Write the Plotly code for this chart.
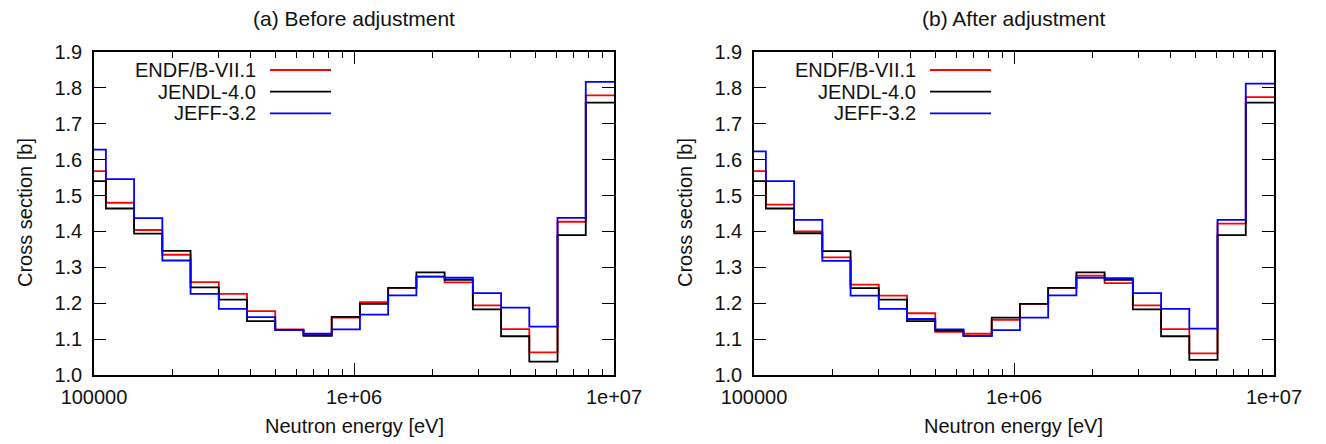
import plotly.graph_objects as go

# Group boundaries (eV), lethargy width 0.25
edges = [86517, 111090, 142642, 183156, 235177, 301974, 387742, 497871, 639279,
         820850, 1053992, 1353353, 1737739, 2231302, 2865048, 3678794, 4723666,
         6065307, 7788008, 10000000]

series_names = ["ENDF/B-VII.1", "JENDL-4.0", "JEFF-3.2"]
series_colors = ["#ff0000", "#000000", "#0000ff"]

# (a) Before adjustment
before_endf = [1.568, 1.480, 1.404, 1.335, 1.259, 1.226, 1.178, 1.127, 1.112, 1.160,
               1.203, 1.243, 1.274, 1.258, 1.194, 1.128, 1.063, 1.427, 1.779]
before_jendl = [1.540, 1.464, 1.394, 1.346, 1.244, 1.210, 1.150, 1.125, 1.109, 1.162,
                1.198, 1.243, 1.286, 1.265, 1.183, 1.108, 1.037, 1.390, 1.759]
before_jeff = [1.628, 1.546, 1.437, 1.319, 1.226, 1.184, 1.161, 1.125, 1.115, 1.127,
               1.168, 1.222, 1.274, 1.271, 1.228, 1.188, 1.135, 1.438, 1.817]

# (b) After adjustment
after_endf = [1.568, 1.475, 1.400, 1.328, 1.252, 1.221, 1.172, 1.120, 1.115, 1.154,
              1.198, 1.243, 1.277, 1.256, 1.194, 1.128, 1.060, 1.422, 1.774]
after_jendl = [1.540, 1.464, 1.395, 1.345, 1.242, 1.210, 1.150, 1.124, 1.109, 1.160,
               1.198, 1.243, 1.286, 1.265, 1.183, 1.108, 1.042, 1.390, 1.759]
after_jeff = [1.623, 1.540, 1.432, 1.318, 1.221, 1.184, 1.156, 1.127, 1.109, 1.125,
              1.160, 1.222, 1.271, 1.270, 1.228, 1.184, 1.129, 1.432, 1.812]

panel_titles = ["(a) Before adjustment", "(b) After adjustment"]
x_tickvals = [1e5, 1e6, 1e7]
x_ticktext = ["100000", "1e+06", "1e+07"]
y_tickvals = [1.0, 1.1, 1.2, 1.3, 1.4, 1.5, 1.6, 1.7, 1.8, 1.9]
x_title = "Neutron energy [eV]"
y_title = "Cross section [b]"

FONT = "Liberation Sans, Arial, sans-serif"
TXT = "#111111"
W, H = 1326, 444
panels_px = [(94, 614), (754, 1274)]
top_px, bot_px = 52, 375

fig = go.Figure()

minor_vals = [m * 10 ** d for d in (5, 6) for m in range(2, 10)]

panel_data = [
    [before_endf, before_jendl, before_jeff],
    [after_endf, after_jendl, after_jeff],
]

for p, (vals_list, (x0, x1)) in enumerate(zip(panel_data, panels_px)):
    xa = "x" if p == 0 else "x2"
    ya = "y" if p == 0 else "y2"
    for name, color, vals in zip(series_names, series_colors, vals_list):
        xs = list(edges)
        ys = list(vals) + [vals[-1]]
        fig.add_trace(go.Scatter(
            x=xs, y=ys, mode="lines", line=dict(color=color, width=1.8, shape="hv"),
            name=name, showlegend=False, xaxis=xa, yaxis=ya, cliponaxis=True))
    axis_common = dict(showline=True, linecolor="black", linewidth=1.5, mirror="ticks",
                       ticks="inside", tickcolor="black", tickwidth=1.2,
                       showgrid=False, zeroline=False, automargin=False,
                       tickfont=dict(family=FONT, size=20, color=TXT))
    xkey = "xaxis" if p == 0 else "xaxis2"
    ykey = "yaxis" if p == 0 else "yaxis2"
    fig.update_layout(**{
        xkey: dict(type="log", range=[5, 7], domain=[x0 / W, x1 / W],
                   anchor=ya, tickvals=x_tickvals, ticktext=x_ticktext, ticklen=12,
                   ticklabelstandoff=3,
                   minor=dict(tickvals=minor_vals, ticks="inside", ticklen=6,
                              tickcolor="black", tickwidth=1.2, showgrid=False),
                   **axis_common),
        ykey: dict(range=[1.0, 1.9], domain=[1 - bot_px / H, 1 - top_px / H],
                   anchor=xa, tickvals=y_tickvals, tickformat=".1f", ticklen=12,
                   ticklabelstandoff=6,
                   **axis_common),
    })
    cx = (x0 + x1) / 2 / W
    fig.add_annotation(text=panel_titles[p], x=cx, y=1 - 18 / H, xref="paper", yref="paper",
                       showarrow=False, xanchor="center", yanchor="middle",
                       font=dict(family=FONT, size=21, color=TXT))
    fig.add_annotation(text=x_title, x=cx, y=1 - 426 / H, xref="paper", yref="paper",
                       showarrow=False, xanchor="center", yanchor="middle",
                       font=dict(family=FONT, size=20, color=TXT))
    fig.add_annotation(text=y_title, x=(x0 - 69) / W, y=1 - 213 / H, xref="paper", yref="paper",
                       showarrow=False, xanchor="center", yanchor="middle", textangle=-90,
                       font=dict(family=FONT, size=20, color=TXT))
    # legend (gnuplot style: text right-aligned, sample line to the right)
    for i, (name, color) in enumerate(zip(series_names, series_colors)):
        ypx = 70 + i * 21.7
        fig.add_annotation(text=name, x=(x0 + 164) / W, y=1 - ypx / H, xref="paper", yref="paper",
                           showarrow=False, xanchor="right", yanchor="middle",
                           font=dict(family=FONT, size=20, color=TXT))
        fig.add_shape(type="line", xref="paper", yref="paper",
                      x0=(x0 + 176) / W, x1=(x0 + 237) / W,
                      y0=1 - ypx / H, y1=1 - ypx / H,
                      line=dict(color=color, width=1.8))

fig.update_layout(width=W, height=H, margin=dict(l=0, r=0, t=0, b=0),
                  paper_bgcolor="white", plot_bgcolor="white", showlegend=False)

fig.write_html("out.html")
